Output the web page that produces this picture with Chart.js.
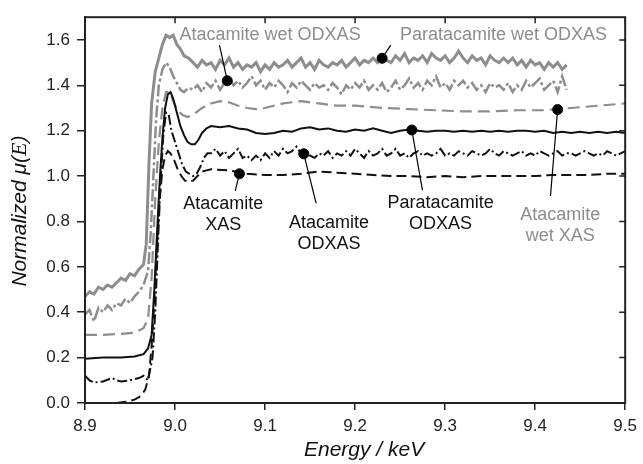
<!DOCTYPE html>
<html>
<head>
<meta charset="utf-8">
<script src="https://cdn.jsdelivr.net/npm/chart.js@4.4.0/dist/chart.umd.min.js"></script>
<style>
  html, body { margin: 0; padding: 0; background: #fff; }
</style>
</head>
<body>
<canvas id="xas" width="643" height="464"></canvas>
<script>
// ==============================
// DATA
// ==============================
const energyTicks = [8.9, 9.0, 9.1, 9.2, 9.3, 9.4, 9.5];
const muTicks = [0.0, 0.2, 0.4, 0.6, 0.8, 1.0, 1.2, 1.4, 1.6];

// shared sampling of the two wet ODXAS scans after the edge
const wetGridE = [
  9.020, 9.025, 9.030, 9.035, 9.040, 9.045, 9.050, 9.055, 9.060, 9.065,
  9.070, 9.075, 9.080, 9.085, 9.090, 9.095, 9.100, 9.105, 9.110, 9.115,
  9.120, 9.125, 9.130, 9.135, 9.140, 9.145, 9.150, 9.155, 9.160, 9.165,
  9.170, 9.175, 9.180, 9.185, 9.190, 9.195, 9.200, 9.205, 9.210, 9.215,
  9.220, 9.225, 9.230, 9.235, 9.240, 9.245, 9.250, 9.255, 9.260, 9.265,
  9.270, 9.275, 9.280, 9.285, 9.290, 9.295, 9.300, 9.305, 9.310, 9.315,
  9.320, 9.325, 9.330, 9.335, 9.340, 9.345, 9.350, 9.355, 9.360, 9.365,
  9.370, 9.375, 9.380, 9.385, 9.390, 9.395, 9.400, 9.405, 9.410, 9.415,
  9.420, 9.425, 9.430, 9.435
];

// Paratacamite wet ODXAS (grey solid)
const paraWetE = [
  8.900, 8.905, 8.910, 8.915, 8.920, 8.925, 8.930, 8.935, 8.940, 8.945,
  8.950, 8.955, 8.960, 8.965, 8.968, 8.971, 8.974, 8.978, 8.982, 8.986,
  8.990, 8.994, 8.998, 9.002, 9.006, 9.010, 9.015, ...wetGridE
];
const paraWetMu = [
  0.47, 0.49, 0.48, 0.51, 0.50, 0.52, 0.51, 0.53, 0.55, 0.54,
  0.57, 0.56, 0.59, 0.61, 0.70, 1.05, 1.32, 1.46, 1.52, 1.58,
  1.62, 1.61, 1.62, 1.58, 1.56, 1.53, 1.52,
  1.50, 1.48, 1.51, 1.49, 1.50, 1.47, 1.51, 1.49, 1.52, 1.48,
  1.50, 1.47, 1.49, 1.48, 1.50, 1.46, 1.49, 1.47, 1.50, 1.48,
  1.49, 1.51, 1.48, 1.50, 1.52, 1.48, 1.50, 1.47, 1.51, 1.49,
  1.48, 1.50, 1.49, 1.51, 1.48, 1.50, 1.52, 1.49, 1.51, 1.50,
  1.52, 1.50, 1.53, 1.51, 1.50, 1.53, 1.51, 1.54, 1.50, 1.52,
  1.51, 1.53, 1.50, 1.54, 1.52, 1.51, 1.53, 1.50, 1.52, 1.55,
  1.52, 1.50, 1.53, 1.51, 1.52, 1.49, 1.53, 1.51, 1.50, 1.52,
  1.50, 1.52, 1.49, 1.51, 1.48, 1.51, 1.49, 1.50, 1.47, 1.50,
  1.48, 1.50, 1.47, 1.49
];

// Atacamite wet ODXAS (grey dash-dot)
const atacWetE = [
  8.900, 8.905, 8.910, 8.915, 8.920, 8.925, 8.930, 8.935, 8.940, 8.945,
  8.950, 8.955, 8.960, 8.965, 8.970, 8.973, 8.976, 8.979, 8.982, 8.986,
  8.990, 8.994, 8.998, 9.002, 9.006, 9.010, 9.015, ...wetGridE
];
const atacWetMu = [
  0.39, 0.41, 0.36, 0.42, 0.40, 0.43, 0.41, 0.44, 0.43, 0.46,
  0.44, 0.47, 0.49, 0.52, 0.58, 0.75, 1.00, 1.25, 1.40, 1.47,
  1.50, 1.48, 1.44, 1.41, 1.38, 1.37, 1.39,
  1.38, 1.40, 1.37, 1.41, 1.39, 1.42, 1.38, 1.41, 1.43, 1.40,
  1.42, 1.39, 1.41, 1.44, 1.40, 1.42, 1.38, 1.41, 1.39, 1.42,
  1.40, 1.37, 1.41, 1.39, 1.42, 1.40, 1.38, 1.41, 1.39, 1.40,
  1.38, 1.41, 1.39, 1.36, 1.40, 1.38, 1.41, 1.39, 1.42, 1.38,
  1.40, 1.38, 1.41, 1.37, 1.39, 1.42, 1.38, 1.40, 1.43, 1.39,
  1.41, 1.38, 1.42, 1.40, 1.44, 1.39, 1.41, 1.38, 1.42, 1.40,
  1.42, 1.39, 1.41, 1.38, 1.40, 1.37, 1.41, 1.39, 1.40, 1.38,
  1.41, 1.37, 1.40, 1.38, 1.42, 1.39, 1.41, 1.43, 1.38, 1.40,
  1.42, 1.37, 1.44, 1.38
];

// Atacamite wet XAS (grey dashed)
const atacWetXasE = [
  8.900, 8.920, 8.940, 8.955, 8.965, 8.970, 8.974, 8.978, 8.982, 8.986,
  8.990, 8.994, 8.998, 9.003, 9.008, 9.014, 9.020, 9.030, 9.040, 9.050,
  9.060, 9.070, 9.080, 9.090, 9.100, 9.120, 9.140, 9.160, 9.180, 9.200,
  9.230, 9.260, 9.290, 9.320, 9.350, 9.380, 9.410, 9.440, 9.470, 9.500
];
const atacWetXasMu = [
  0.30, 0.30, 0.305, 0.31, 0.33, 0.37, 0.55, 0.90, 1.15, 1.30,
  1.37, 1.37, 1.33, 1.29, 1.27, 1.26, 1.27, 1.30, 1.32, 1.33,
  1.325, 1.31, 1.30, 1.295, 1.30, 1.32, 1.33, 1.32, 1.31, 1.31,
  1.30, 1.295, 1.29, 1.285, 1.285, 1.29, 1.29, 1.30, 1.31, 1.32
];

// Paratacamite ODXAS (black solid)
const paraE = [
  8.900, 8.920, 8.940, 8.955, 8.965, 8.970, 8.974, 8.977, 8.980, 8.983,
  8.986, 8.989, 8.992, 8.995, 8.998, 9.002, 9.006, 9.010, 9.014, 9.018,
  9.022, 9.026, 9.030, 9.035,
  9.04, 9.05, 9.06, 9.07, 9.08, 9.09, 9.10, 9.11, 9.12, 9.13,
  9.14, 9.15, 9.16, 9.17, 9.18, 9.19, 9.20, 9.21, 9.22, 9.23,
  9.24, 9.25, 9.26, 9.27, 9.28, 9.29, 9.30, 9.31, 9.32, 9.33,
  9.34, 9.35, 9.36, 9.37, 9.38, 9.39, 9.40, 9.41, 9.42, 9.43,
  9.44, 9.45, 9.46, 9.47, 9.48, 9.49, 9.50
];
const paraMu = [
  0.195, 0.20, 0.20, 0.205, 0.215, 0.24, 0.30, 0.50, 0.75, 0.98,
  1.17, 1.30, 1.36, 1.37, 1.34, 1.28, 1.22, 1.18, 1.15, 1.14,
  1.14, 1.16, 1.19, 1.21,
  1.22, 1.215, 1.22, 1.21, 1.205, 1.19, 1.185, 1.19, 1.20, 1.195,
  1.21, 1.215, 1.205, 1.21, 1.20, 1.195, 1.205, 1.20, 1.21, 1.20,
  1.19, 1.20, 1.205, 1.20, 1.195, 1.20, 1.20, 1.195, 1.20, 1.195,
  1.20, 1.195, 1.20, 1.195, 1.20, 1.20, 1.195, 1.20, 1.19, 1.195,
  1.19, 1.195, 1.19, 1.195, 1.19, 1.195, 1.19
];

// Atacamite ODXAS (black dash-dot)
const atacOdxasE = [
  8.900, 8.905, 8.910, 8.920, 8.930, 8.935, 8.940, 8.950, 8.960, 8.965,
  8.970, 8.972, 8.975, 8.978, 8.981, 8.984, 8.987, 8.990, 8.993, 8.996,
  9.000, 9.004, 9.008, 9.012, 9.016, 9.020, 9.024, 9.028, 9.032, 9.036,
  9.040, 9.045, 9.050, 9.055, 9.060, 9.065, 9.070, 9.075, 9.080, 9.085,
  9.090, 9.095, 9.100, 9.105, 9.110, 9.115, 9.120, 9.125, 9.130, 9.135,
  9.140, 9.145, 9.150, 9.155, 9.160, 9.165, 9.170, 9.175, 9.180, 9.185,
  9.190, 9.195, 9.200, 9.205, 9.210, 9.215, 9.220, 9.225, 9.230, 9.235,
  9.240, 9.245, 9.250, 9.255, 9.260, 9.265, 9.270, 9.275, 9.280, 9.285,
  9.290, 9.295, 9.300, 9.305, 9.310, 9.315, 9.320, 9.325, 9.330, 9.335,
  9.340, 9.345, 9.350, 9.355, 9.360, 9.365, 9.370, 9.375, 9.380, 9.385,
  9.390, 9.395, 9.400, 9.405, 9.410, 9.415, 9.420, 9.425, 9.430, 9.435,
  9.440, 9.445, 9.450, 9.455, 9.460, 9.465, 9.470, 9.475, 9.480, 9.485,
  9.490, 9.495, 9.500
];
const atacOdxasMu = [
  0.12, 0.10, 0.09, 0.095, 0.11, 0.10, 0.095, 0.10, 0.11, 0.12,
  0.10, 0.14, 0.20, 0.40, 0.70, 0.98, 1.18, 1.28, 1.27, 1.20,
  1.15, 1.10, 1.05, 1.02, 1.01, 1.00, 1.01, 1.04, 1.08, 1.10,
  1.10, 1.12, 1.09, 1.11, 1.08, 1.10, 1.12, 1.08, 1.09, 1.07,
  1.09, 1.07, 1.10, 1.08, 1.11, 1.09, 1.12, 1.10, 1.11, 1.13,
  1.10, 1.12, 1.09, 1.08, 1.10, 1.09, 1.11, 1.08, 1.10, 1.09,
  1.11, 1.09, 1.12, 1.10, 1.08, 1.11, 1.09, 1.10, 1.12, 1.09,
  1.10, 1.12, 1.09, 1.10, 1.08, 1.10, 1.11, 1.09, 1.10, 1.09,
  1.10, 1.12, 1.09, 1.10, 1.09, 1.11, 1.10, 1.09, 1.11, 1.10,
  1.09, 1.10, 1.12, 1.10, 1.09, 1.11, 1.10, 1.09, 1.10, 1.11,
  1.09, 1.10, 1.09, 1.11, 1.10, 1.09, 1.10, 1.11, 1.09, 1.10,
  1.10, 1.09, 1.10, 1.11, 1.10, 1.09, 1.10, 1.09, 1.11, 1.10,
  1.09, 1.10, 1.11
];

// Atacamite XAS (black dashed)
const atacXasE = [
  8.935, 8.945, 8.955, 8.962, 8.967, 8.971, 8.974, 8.977, 8.980, 8.983,
  8.986, 8.989, 8.992, 8.995, 8.999, 9.003, 9.007, 9.011, 9.015, 9.020,
  9.025, 9.030, 9.035, 9.040,
  9.06, 9.08, 9.10, 9.12, 9.14, 9.16, 9.18, 9.20, 9.22, 9.24,
  9.26, 9.28, 9.30, 9.32, 9.34, 9.36, 9.38, 9.40, 9.42, 9.44,
  9.46, 9.48, 9.50
];
const atacXasMu = [
  0.00, 0.005, 0.015, 0.03, 0.06, 0.12, 0.25, 0.45, 0.70, 0.90,
  1.03, 1.09, 1.11, 1.10, 1.07, 1.03, 1.00, 0.98, 0.975, 0.98,
  1.00, 1.02, 1.025, 1.03,
  1.025, 1.01, 1.005, 1.005, 1.01, 1.02, 1.015, 1.01, 1.005, 1.00,
  1.00, 0.995, 1.00, 0.995, 1.00, 1.00, 1.00, 1.00, 1.005, 1.005,
  1.005, 1.01, 1.01
];

// marker dots on the curves
const dotE = [9.058, 9.230, 9.0715, 9.143, 9.263, 9.425];
const dotMu = [1.42, 1.519, 1.01, 1.098, 1.203, 1.293];

// ==============================
// LABELS (text centre, pointer end, in data units)
// ==============================
const GREY = "#8d8d8d";
const INK = "#111111";

const notes = [
  { lines: ["Atacamite wet ODXAS"], color: GREY, at: [9.1056, 1.62], tip: [9.0494, 1.577], dot: 0 },
  { lines: ["Paratacamite wet ODXAS"], color: GREY, at: [9.3648, 1.62], tip: [9.2396, 1.577], dot: 1 },
  { lines: ["Atacamite", "XAS"], color: INK, at: [9.0536, 0.877], tip: [9.0669, 0.935], dot: 2 },
  { lines: ["Atacamite", "ODXAS"], color: INK, at: [9.1709, 0.794], tip: [9.1567, 0.881], dot: 3 },
  { lines: ["Paratacamite", "ODXAS"], color: INK, at: [9.295, 0.881], tip: [9.2748, 0.938], dot: 4 },
  { lines: ["Atacamite", "wet XAS"], color: GREY, at: [9.428, 0.828], tip: [9.417, 0.912], dot: 5 }
];

const SANS = "'Liberation Sans', Arial, sans-serif";
const SERIF = "'Liberation Serif', 'Times New Roman', serif";

function pairs(xs, ys) {
  return xs.map((x, i) => ({ x, y: ys[i] }));
}

function curve(xs, ys, color, width, dash) {
  return {
    data: pairs(xs, ys),
    showLine: true,
    borderColor: color,
    borderWidth: width,
    borderDash: dash,
    pointRadius: 0,
    tension: 0
  };
}

// ==============================
// FRAME, INNER TICKS, TITLES, NOTES
// ==============================
const decorPlugin = {
  id: "decor",
  afterDatasetsDraw(chart) {
    const { ctx, scales } = chart;
    const xs = scales.x;
    const ys = scales.y;

    // pointer lines
    ctx.save();
    ctx.strokeStyle = "#000";
    ctx.lineWidth = 1.2;
    notes.forEach((n) => {
      ctx.beginPath();
      ctx.moveTo(xs.getPixelForValue(dotE[n.dot]), ys.getPixelForValue(dotMu[n.dot]));
      ctx.lineTo(xs.getPixelForValue(n.tip[0]), ys.getPixelForValue(n.tip[1]));
      ctx.stroke();
    });

    // label text
    ctx.font = "18px " + SANS;
    ctx.textAlign = "center";
    ctx.textBaseline = "middle";
    notes.forEach((n) => {
      ctx.fillStyle = n.color;
      const cx = xs.getPixelForValue(n.at[0]);
      const cy = ys.getPixelForValue(n.at[1]);
      n.lines.forEach((t, i) => ctx.fillText(t, cx, cy + i * 21));
    });
    ctx.restore();
  },
  afterDraw(chart) {
    const { ctx, chartArea: a, scales } = chart;
    ctx.save();
    ctx.strokeStyle = "#222";
    ctx.lineWidth = 2;
    ctx.strokeRect(a.left, a.top, a.right - a.left, a.bottom - a.top);

    // top and right ticks point inwards
    ctx.lineWidth = 1.5;
    ctx.beginPath();
    energyTicks.forEach((e) => {
      const x = scales.x.getPixelForValue(e);
      ctx.moveTo(x, a.top);
      ctx.lineTo(x, a.top + 6);
    });
    muTicks.forEach((v) => {
      const y = scales.y.getPixelForValue(v);
      ctx.moveTo(a.right - 6, y);
      ctx.lineTo(a.right, y);
    });
    ctx.stroke();

    // x title
    ctx.fillStyle = "#111";
    ctx.font = "italic 21px " + SANS;
    ctx.textAlign = "center";
    ctx.textBaseline = "middle";
    ctx.fillText("Energy / keV", (a.left + a.right) / 2 + 9, a.bottom + 47);

    // y title, mixed fonts
    const parts = [
      ["Normalized \u03bc(", "italic 21px " + SANS],
      ["E", "italic 22px " + SERIF],
      [")", "italic 21px " + SANS]
    ];
    let total = 0;
    parts.forEach((p) => { ctx.font = p[1]; total += ctx.measureText(p[0]).width; });
    ctx.translate(20, (a.top + a.bottom) / 2 + 1);
    ctx.rotate(-Math.PI / 2);
    ctx.textAlign = "left";
    let x0 = -total / 2;
    parts.forEach((p) => {
      ctx.font = p[1];
      ctx.fillText(p[0], x0, 0);
      x0 += ctx.measureText(p[0]).width;
    });
    ctx.restore();
  }
};

// ==============================
// CHART
// ==============================
const ctx = document.getElementById("xas").getContext("2d");

new Chart(ctx, {
  type: "scatter",
  data: {
    datasets: [
      {
        data: pairs(dotE, dotMu),
        pointRadius: 5,
        pointBackgroundColor: "#000",
        pointBorderColor: "#000",
        showLine: false
      },
      curve(atacXasE, atacXasMu, "#111", 2, [10, 5]),
      curve(atacOdxasE, atacOdxasMu, "#111", 2, [10, 3, 2, 3]),
      curve(paraE, paraMu, "#111", 2, []),
      curve(atacWetXasE, atacWetXasMu, GREY, 2.2, [12, 6]),
      curve(atacWetE, atacWetMu, GREY, 2.5, [12, 3, 3, 3]),
      curve(paraWetE, paraWetMu, GREY, 3, [])
    ]
  },
  options: {
    responsive: false,
    animation: false,
    events: [],
    layout: { padding: { top: 11, right: 16, left: 0, bottom: 0 } },
    plugins: {
      legend: { display: false },
      tooltip: { enabled: false }
    },
    scales: {
      x: {
        type: "linear",
        min: 8.9,
        max: 9.5,
        afterBuildTicks: (s) => { s.ticks = energyTicks.map((v) => ({ value: v })); },
        afterFit: (s) => { s.height = 61; },
        grid: { drawOnChartArea: false, tickLength: 7, color: "#222", lineWidth: 1.5 },
        border: { color: "#222", width: 2 },
        ticks: {
          color: "#222",
          padding: 6,
          maxRotation: 0,
          font: { family: SANS, size: 17 },
          callback: (v) => Number(v).toFixed(1)
        }
      },
      y: {
        type: "linear",
        min: 0,
        max: 1.7,
        afterBuildTicks: (s) => { s.ticks = muTicks.map((v) => ({ value: v })); },
        afterFit: (s) => { s.width = 85; },
        grid: { drawOnChartArea: false, tickLength: 8, color: "#222", lineWidth: 1.5 },
        border: { color: "#222", width: 2 },
        ticks: {
          color: "#222",
          padding: 7,
          font: { family: SANS, size: 17 },
          callback: (v) => Number(v).toFixed(1)
        }
      }
    }
  },
  plugins: [decorPlugin]
});
</script>
</body>
</html>
